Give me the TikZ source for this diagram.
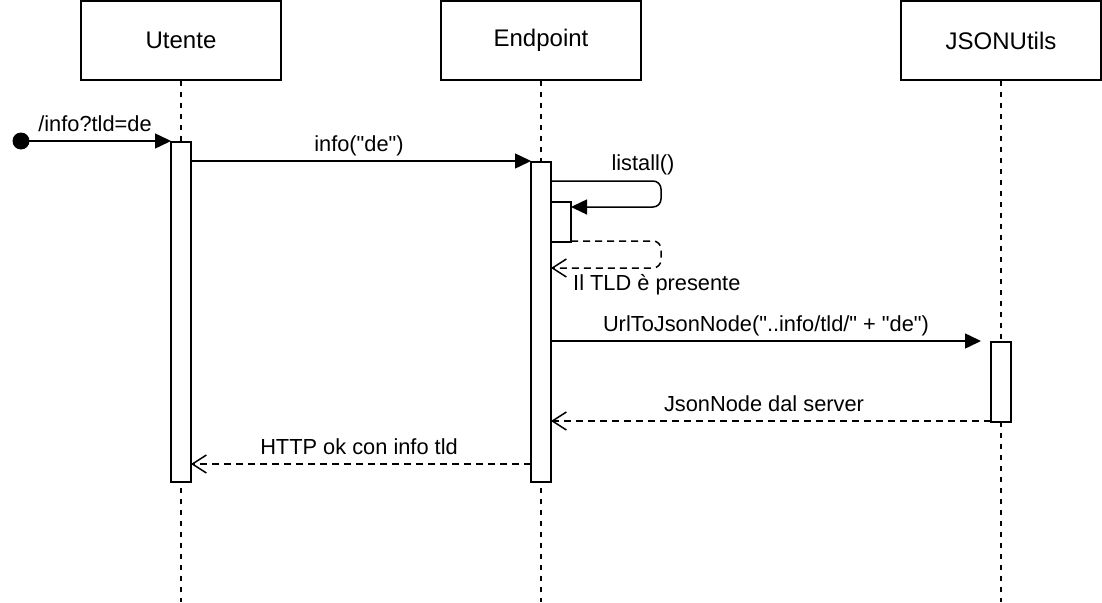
\documentclass[tikz,border=0pt]{standalone}
\usepackage{fontspec}
\setmainfont{Liberation Sans}[Ligatures=TeXOff]
\usetikzlibrary{arrows.meta}
\begin{document}
\begin{tikzpicture}[x=1pt,y=-1pt,
  every node/.style={font=\fontsize{21.8}{26}\selectfont, inner sep=0pt},
  actor/.style={draw, line width=1.5pt, minimum width=200pt, minimum height=79pt, fill=white, font=\fontsize{24}{28}\selectfont},
  lifeline/.style={line width=1.5pt, dash pattern=on 5pt off 6pt},
  actbar/.style={draw, line width=1.5pt, fill=white, minimum width=20pt, anchor=north},
  msg/.style={line width=1.5pt, -{Triangle[length=16pt,width=15pt]}},
  ret/.style={line width=1.5pt, dash pattern=on 7pt off 5pt, -{Straight Barb[length=14pt,width=18pt,line width=1.5pt]}},
  lbl/.style={anchor=base}
]
\useasboundingbox (0,0) rectangle (1102,602);

% actors
\node[actor] (utente) at (181,40.5) {Utente};
\node[actor] (endpoint) at (541,40.5) {Endpoint};
\node[actor] (json) at (1001,40.5) {JSONUtils};

% lifelines
\coordinate (uend) at (181,602);
\coordinate (eend) at (541,602);
\coordinate (jend) at (1001,602);
\draw[lifeline] (utente.south) -- (uend);
\draw[lifeline] (endpoint.south) -- (eend);
\draw[lifeline] (json.south) -- (jend);

% activation bars
\node[actbar, minimum height=340pt] (uact) at (181,141) {};
\node[actbar, minimum height=320pt] (eact) at (541,161) {};
\node[actbar, minimum height=40pt] (eact2) at (561,201) {};
\node[actbar, minimum height=80pt] (jact) at (1001,341) {};

% start point
\coordinate (start) at (21,141);
\fill (start) circle (8.5pt);
\coordinate (uin) at (171,141);
\draw[msg] (start) -- (uin);
\node[lbl] (l1) at (95,131) {/info?tld=de};

% info("de")
\coordinate (uout) at (191,161);
\coordinate (ein) at (531,161);
\draw[msg] (uout) -- (ein);
\node[lbl] (l2) at (359,151) {info("de")};

% listall self call
\coordinate (sc1) at (551,181);
\coordinate (sc2) at (661,181);
\coordinate (sc3) at (661,207);
\coordinate (sc4) at (571,207);
\draw[msg, rounded corners=8pt] (sc1) -- (sc2) -- (sc3) -- (sc4);
\node[lbl] (l3) at (643,170) {listall()};

% return from listall
\coordinate (rc1) at (571,241);
\coordinate (rc2) at (661,241);
\coordinate (rc3) at (661,268);
\coordinate (rc4) at (551,268);
\draw[ret, rounded corners=8pt] (rc1) -- (rc2) -- (rc3) -- (rc4);
\node[lbl, anchor=base west] (l4) at (573,290) {Il TLD è presente};

% UrlToJsonNode
\coordinate (eout) at (551,341);
\coordinate (jin) at (981,341);
\draw[msg] (eout) -- (jin);
\node[lbl] (l5) at (766,331) {UrlToJsonNode("..info/tld/" + "de")};

% JsonNode dal server
\coordinate (jout) at (991,421);
\coordinate (eret) at (551,421);
\draw[ret] (jout) -- (eret);
\node[lbl] (l6) at (764,411) {JsonNode dal server};

% HTTP ok
\coordinate (eout2) at (531,464);
\coordinate (uret) at (191,464);
\draw[ret] (eout2) -- (uret);
\node[lbl] (l7) at (359,454) {HTTP ok con info tld};
\end{tikzpicture}
\end{document}
